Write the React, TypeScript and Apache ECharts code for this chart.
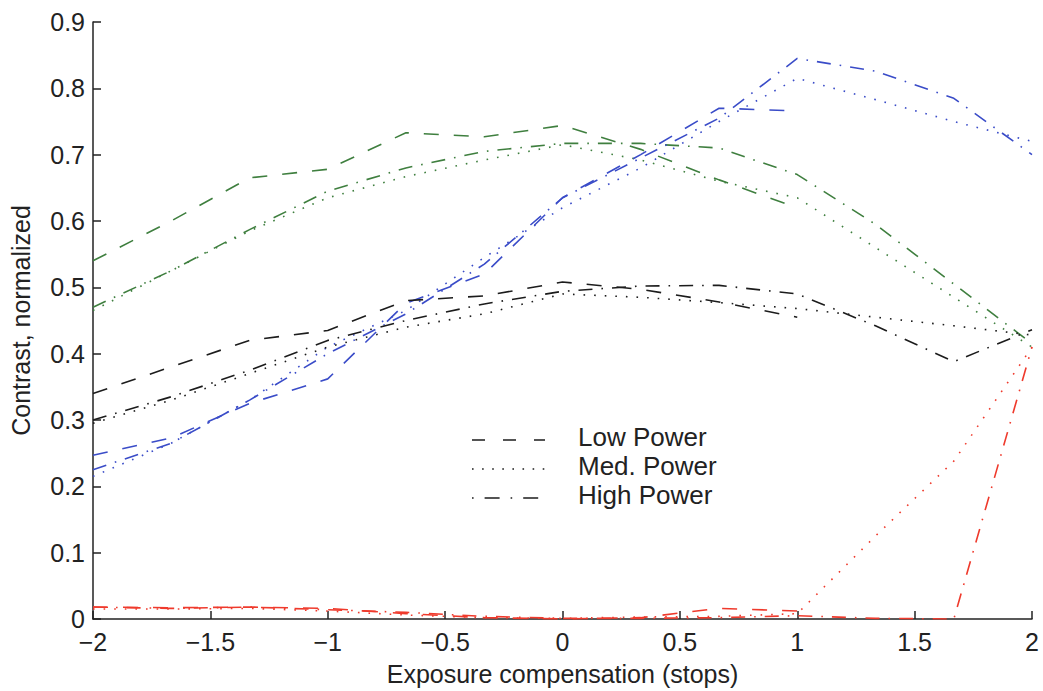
import React, { useEffect, useRef } from "react";
import * as echarts from "echarts";

// Exposure compensation (stops) sample positions
const xStops = [-2, -1.667, -1.333, -1, -0.667, -0.333, 0, 0.333, 0.667, 1, 1.333, 1.667, 2];

// Low Power (dashed) – measured only up to +1 stop
const blackLow = [0.34, 0.38, 0.42, 0.435, 0.48, 0.487, 0.508, 0.497, 0.478, 0.455];
const blueLow = [0.247, 0.273, 0.325, 0.362, 0.476, 0.52, 0.635, 0.7, 0.77, 0.766];
const greenLow = [0.54, 0.6, 0.665, 0.678, 0.733, 0.727, 0.744, 0.708, 0.662, 0.62];
const redLow = [0.018, 0.017, 0.018, 0.016, 0.008, 0.002, 0.0, 0.002, 0.016, 0.012];

// Med. Power (dotted)
const blackMed = [0.295, 0.33, 0.37, 0.41, 0.44, 0.46, 0.49, 0.485, 0.477, 0.468, 0.455, 0.442, 0.428];
const blueMed = [0.215, 0.265, 0.33, 0.41, 0.465, 0.545, 0.62, 0.68, 0.75, 0.815, 0.783, 0.75, 0.72];
const greenMed = [0.465, 0.525, 0.585, 0.635, 0.667, 0.692, 0.715, 0.692, 0.66, 0.635, 0.56, 0.485, 0.41];
const redMed = [0.015, 0.015, 0.016, 0.012, 0.006, 0.002, 0.001, 0.003, 0.004, 0.008, 0.125, 0.238, 0.41];

// High Power (dash-dot)
const blackHigh = [0.3, 0.335, 0.375, 0.42, 0.45, 0.475, 0.494, 0.502, 0.503, 0.49, 0.442, 0.388, 0.436];
const blueHigh = [0.225, 0.265, 0.33, 0.4, 0.46, 0.535, 0.635, 0.695, 0.755, 0.845, 0.826, 0.785, 0.7];
const greenHigh = [0.47, 0.525, 0.587, 0.645, 0.68, 0.705, 0.717, 0.717, 0.71, 0.67, 0.595, 0.505, 0.415];
const redHigh = [0.018, 0.016, 0.018, 0.014, 0.01, 0.004, 0.001, 0.001, 0.002, 0.005, 0.001, 0.0, 0.41];

const legendNames = ["Low Power", "Med. Power", "High Power"];

const COLORS = { black: "#1c1c1c", blue: "#3a4cc8", green: "#3f7f3f", red: "#ef3a2c" };
const DASH = {
  low: [15, 15],
  med: [1.6, 9],
  high: [14, 9, 1.6, 9],
};
const LEGEND_DASH = [
  [13, 18],
  [1.6, 8.5],
  [1.6, 11, 15, 11],
];

const FONT = "'Liberation Sans', Arial, Helvetica, sans-serif";

function pair(ys: number[]) {
  return ys.map((y, i) => [xStops[i], y]);
}

function lineSeries(name: string, ys: number[], color: string, dash: number[]) {
  return {
    type: "line",
    name,
    data: pair(ys),
    symbol: "none",
    showSymbol: false,
    silent: true,
    lineStyle: { color, width: 1.6, type: dash, cap: "butt" },
    itemStyle: { color },
    z: 2,
  };
}

export default function App() {
  const ref = useRef<HTMLDivElement>(null);

  useEffect(() => {
    if (!ref.current) return;
    const chart = echarts.init(ref.current, undefined, { renderer: "svg" });
    const fmtMinus = (v: number) => (v < 0 ? "\u2212" + String(Math.abs(v)) : String(v));

    const series: any[] = [
      lineSeries("gLow", greenLow, COLORS.green, DASH.low),
      lineSeries("gMed", greenMed, COLORS.green, DASH.med),
      lineSeries("gHigh", greenHigh, COLORS.green, DASH.high),
      lineSeries("bLow", blueLow, COLORS.blue, DASH.low),
      lineSeries("bMed", blueMed, COLORS.blue, DASH.med),
      lineSeries("bHigh", blueHigh, COLORS.blue, DASH.high),
      lineSeries("kLow", blackLow, COLORS.black, DASH.low),
      lineSeries("kMed", blackMed, COLORS.black, DASH.med),
      lineSeries("kHigh", blackHigh, COLORS.black, DASH.high),
      lineSeries("rLow", redLow, COLORS.red, DASH.low),
      lineSeries("rMed", redMed, COLORS.red, DASH.med),
      lineSeries("rHigh", redHigh, COLORS.red, DASH.high),
    ];

    // legend drawn as line samples + labels
    const legendGraphics: any[] = [];
    const lineYs = [440, 469, 498];
    legendNames.forEach((name, i) => {
      legendGraphics.push({
        type: "line",
        silent: true,
        shape: { x1: 472, y1: lineYs[i], x2: 545, y2: lineYs[i] },
        style: { stroke: COLORS.black, lineWidth: 1.6, lineDash: LEGEND_DASH[i] },
      });
      legendGraphics.push({
        type: "text",
        silent: true,
        x: 578,
        y: lineYs[i] - 3,
        style: {
          text: name,
          fontFamily: FONT,
          fontSize: 26,
          fill: "#222",
          verticalAlign: "middle",
          align: "left",
        },
      });
    });

    chart.setOption({
      animation: false,
      backgroundColor: "#ffffff",
      textStyle: { fontFamily: FONT },
      grid: { left: 93, right: 11, top: 22, bottom: 70, containLabel: false },
      graphic: legendGraphics,
      xAxis: {
        type: "value",
        min: -2,
        max: 2,
        interval: 0.5,
        name: "Exposure compensation (stops)",
        nameLocation: "middle",
        nameGap: 42,
        nameTextStyle: { fontFamily: FONT, fontSize: 25, color: "#222" },
        axisLine: { show: true, onZero: false, lineStyle: { color: "#222", width: 1.5 } },
        axisTick: { show: true, inside: true, length: 8, lineStyle: { color: "#222", width: 1.5 } },
        axisLabel: {
          fontFamily: FONT,
          fontSize: 25,
          color: "#222",
          margin: 10,
          formatter: fmtMinus,
        },
        splitLine: { show: false },
      },
      yAxis: {
        type: "value",
        min: 0,
        max: 0.9,
        interval: 0.1,
        name: "Contrast, normalized",
        nameLocation: "middle",
        nameGap: 60,
        nameTextStyle: { fontFamily: FONT, fontSize: 25, color: "#222" },
        axisLine: { show: true, onZero: false, lineStyle: { color: "#222", width: 1.5 } },
        axisTick: { show: true, inside: true, length: 8, lineStyle: { color: "#222", width: 1.5 } },
        axisLabel: {
          fontFamily: FONT,
          fontSize: 25,
          color: "#222",
          margin: 8,
          formatter: (v: number) => (v === 0 ? "0" : v.toFixed(1)),
        },
        splitLine: { show: false },
      },
      series,
    });

    return () => chart.dispose();
  }, []);

  return (
    <div
      ref={ref}
      style={{ position: "absolute", left: 0, top: 0, width: 1043, height: 691, background: "#fff" }}
    />
  );
}
